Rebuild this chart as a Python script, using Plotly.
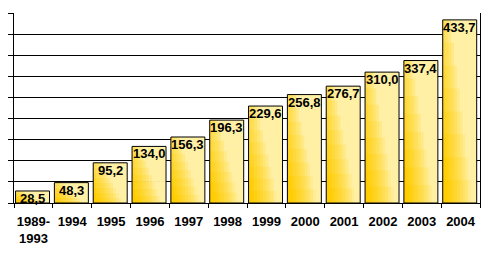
import plotly.graph_objects as go

categories = ["1989-<br>1993", "1994", "1995", "1996", "1997", "1998",
              "1999", "2000", "2001", "2002", "2003", "2004"]
values = [28.5, 48.3, 95.2, 134.0, 156.3, 196.3, 229.6, 256.8, 276.7, 310.0, 337.4, 433.7]
labels = ["28,5", "48,3", "95,2", "134,0", "156,3", "196,3", "229,6", "256,8",
          "276,7", "310,0", "337,4", "433,7"]

BAR_W = 0.875
BAR_OFF = -0.46
NCOL = 12
NROW = 8

dark = (255, 204, 0)
pale = (255, 240, 165)


def mix(d):
    return "rgb(%d,%d,%d)" % tuple(round(p + (q - p) * d) for p, q in zip(pale, dark))


fig = go.Figure()
sw = BAR_W / NCOL
for i in range(NCOL):
    t = (i + 0.5) / NCOL
    for j in range(NROW):
        s = (j + 0.5) / NROW
        d = max(0.0, min(1.0, 1.2 - 1.4 * t - 0.85 * s))
        d = d ** 0.7 if d > 0 else 0
        w = sw * (1.25 if i < NCOL - 1 else 1.0)
        hfrac = 1.0 / NROW * (1.08 if j < NROW - 1 else 1.0)
        fig.add_trace(go.Bar(
            x=categories,
            y=[v * hfrac for v in values],
            base=[v * j / NROW for v in values],
            width=w, offset=BAR_OFF + i * sw,
            marker=dict(color=mix(d), line=dict(width=0)),
            hoverinfo="skip", showlegend=False,
        ))

fig.add_trace(go.Bar(
    x=categories, y=values, width=BAR_W, offset=BAR_OFF,
    marker=dict(color="rgba(0,0,0,0)", line=dict(color="black", width=1)),
    showlegend=False,
))

for k, (v, lab) in enumerate(zip(values, labels)):
    fig.add_annotation(x=k + BAR_OFF + BAR_W / 2, y=v, text="<b>" + lab + "</b>",
                       showarrow=False, yanchor="top", xanchor="center", yshift=2,
                       font=dict(family="Liberation Sans", size=13, color="black"))

fig.update_layout(
    width=490, height=255, barmode="overlay",
    margin=dict(l=12, r=9, t=13, b=47),
    paper_bgcolor="white", plot_bgcolor="white",
    font=dict(family="Liberation Sans", size=13, color="black"),
    xaxis=dict(type="category", range=[-0.5, len(categories) - 0.5],
               showline=True, linecolor="black", linewidth=1,
               ticks="outside", ticklen=4, tickcolor="black", tickson="boundaries",
               showgrid=False, tickfont=dict(size=13, family="Liberation Sans"),
               tickangle=0, ticklabelstandoff=6,
               tickvals=categories, ticktext=["<b>" + c + "</b>" for c in categories],
               fixedrange=True),
    yaxis=dict(range=[0, 450], dtick=50, showline=True, mirror=True, linecolor="black",
               linewidth=1, ticks="outside", ticklen=5, tickcolor="black",
               showticklabels=False, showgrid=True, gridcolor="black", gridwidth=1,
               zeroline=False, fixedrange=True),
)

fig.write_html("out.html")
